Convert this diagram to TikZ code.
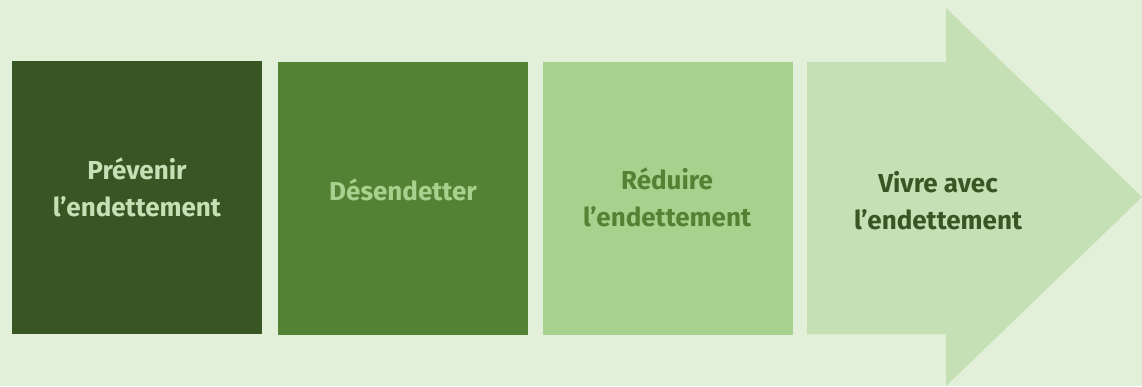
\documentclass[tikz,border=0pt]{standalone}
\usepackage{fontspec}
\setmainfont{Fira Sans}
\definecolor{bg}{HTML}{E2EFD9}
\definecolor{gA}{HTML}{375623}
\definecolor{gB}{HTML}{548235}
\definecolor{gC}{HTML}{A9D18E}
\definecolor{gD}{HTML}{C5E0B4}
\tikzset{
  lbl/.style={font=\fontsize{26}{37}\selectfont\bfseries, align=center, inner sep=0pt},
}
\begin{document}
\begin{tikzpicture}[x=1pt,y=-1pt]
\useasboundingbox (0,0) rectangle (1142,386);
\fill[bg] (0,0) rectangle (1142,386);
\fill[gA] (12,61) rectangle (262,334);
\fill[gB] (278,62) rectangle (528,335);
\fill[gC] (543,62) rectangle (793,335);
\fill[gD] (807,62) -- (946,62) -- (946,8) -- (1142,197) -- (946,386) -- (946,334) -- (807,334) -- cycle;
\node[lbl, text=gD] (n1) at (137,187) {Prévenir\\l’endettement};
\node[lbl, text=gC] (n2) at (403,190) {Désendetter};
\node[lbl, text=gB] (n3) at (667,197) {Réduire\\l’endettement};
\node[lbl, text=gA] (n4) at (938,201) {Vivre avec\\l’endettement};
\end{tikzpicture}
\end{document}
